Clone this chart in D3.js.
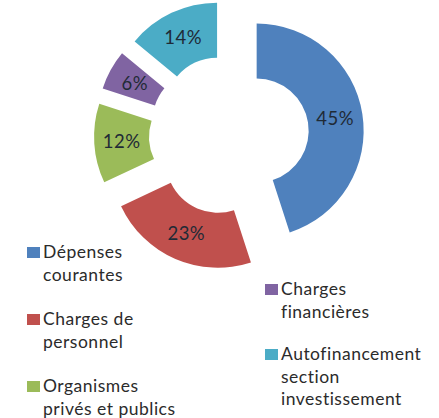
<!DOCTYPE html>
<html>
<head>
<meta charset="utf-8">
<script src="https://cdn.jsdelivr.net/npm/d3@7"></script>
<style>
  body { margin: 0; background: #fff; }
  svg { display: block; }
  text { font-family: Lato, "Noto Sans", sans-serif; }
</style>
</head>
<body>
<div id="chart"></div>
<script>
let categories = ['Dépenses courantes', 'Charges de personnel', 'Organismes privés et publics', 'Charges financières', 'Autofinancement section investissement']
let legendLines = [['Dépenses', 'courantes'], ['Charges de', 'personnel'], ['Organismes', 'privés et publics'], ['Charges', 'financières'], ['Autofinancement', 'section', 'investissement']]
let values = [45, 23, 12, 6, 14]
let colors = ['#4f81bd', '#c0504d', '#9bbb59', '#8064a2', '#4bacc6']

function main () {
  let width = 439
  let height = 418
  let svg = d3.select('#chart').append('svg').attr('width', width).attr('height', height)

  drawDonut(svg)
  drawLegend(svg)
}

function drawDonut (svg) {
  let cx = 229
  let cy = 135
  let outer = 107
  let inner = 52
  let explode = 28

  let pie = d3.pie().sort(null).value((d) => d)
  let arc = d3.arc().innerRadius(inner).outerRadius(outer)
  let mid = (inner + outer) / 2

  let g = svg.append('g').attr('transform', `translate(${cx},${cy})`)

  let slices = g.selectAll('g.slice')
    .data(pie(values))
    .enter().append('g')
    .attr('class', 'slice')
    .attr('transform', (d) => {
      let a = (d.startAngle + d.endAngle) / 2
      return `translate(${explode * Math.sin(a)},${-explode * Math.cos(a)})`
    })

  slices.append('path')
    .attr('d', arc)
    .attr('fill', (d, i) => colors[i])

  slices.append('text')
    .attr('x', (d) => mid * Math.sin((d.startAngle + d.endAngle) / 2))
    .attr('y', (d) => -mid * Math.cos((d.startAngle + d.endAngle) / 2))
    .attr('dy', '0.36em')
    .attr('text-anchor', 'middle')
    .attr('font-size', 18.5)
    .attr('letter-spacing', 0.5)
    .attr('fill', '#1f2a36')
    .text((d) => d.value + '%')
}

function drawLegend (svg) {
  // left column holds the first three entries, right column the rest
  let spots = [[27, 258], [27, 325], [27, 392], [265, 295], [265, 360]]
  let lineHeight = 22.5

  legendLines.forEach((lines, i) => {
    let g = svg.append('g').attr('transform', `translate(${spots[i][0]},${spots[i][1]})`)
    g.append('rect')
      .attr('x', 0)
      .attr('y', -11)
      .attr('width', 13)
      .attr('height', 11)
      .attr('fill', colors[i])
    g.append('text')
      .attr('x', 16)
      .attr('y', 0)
      .attr('font-size', 17.5)
      .attr('letter-spacing', 0.5)
      .attr('fill', '#2b2b2b')
      .selectAll('tspan')
      .data(lines)
      .enter().append('tspan')
      .attr('x', 16)
      .attr('y', (d, j) => j * lineHeight)
      .text((d) => d)
  })
}

main()
</script>
</body>
</html>
